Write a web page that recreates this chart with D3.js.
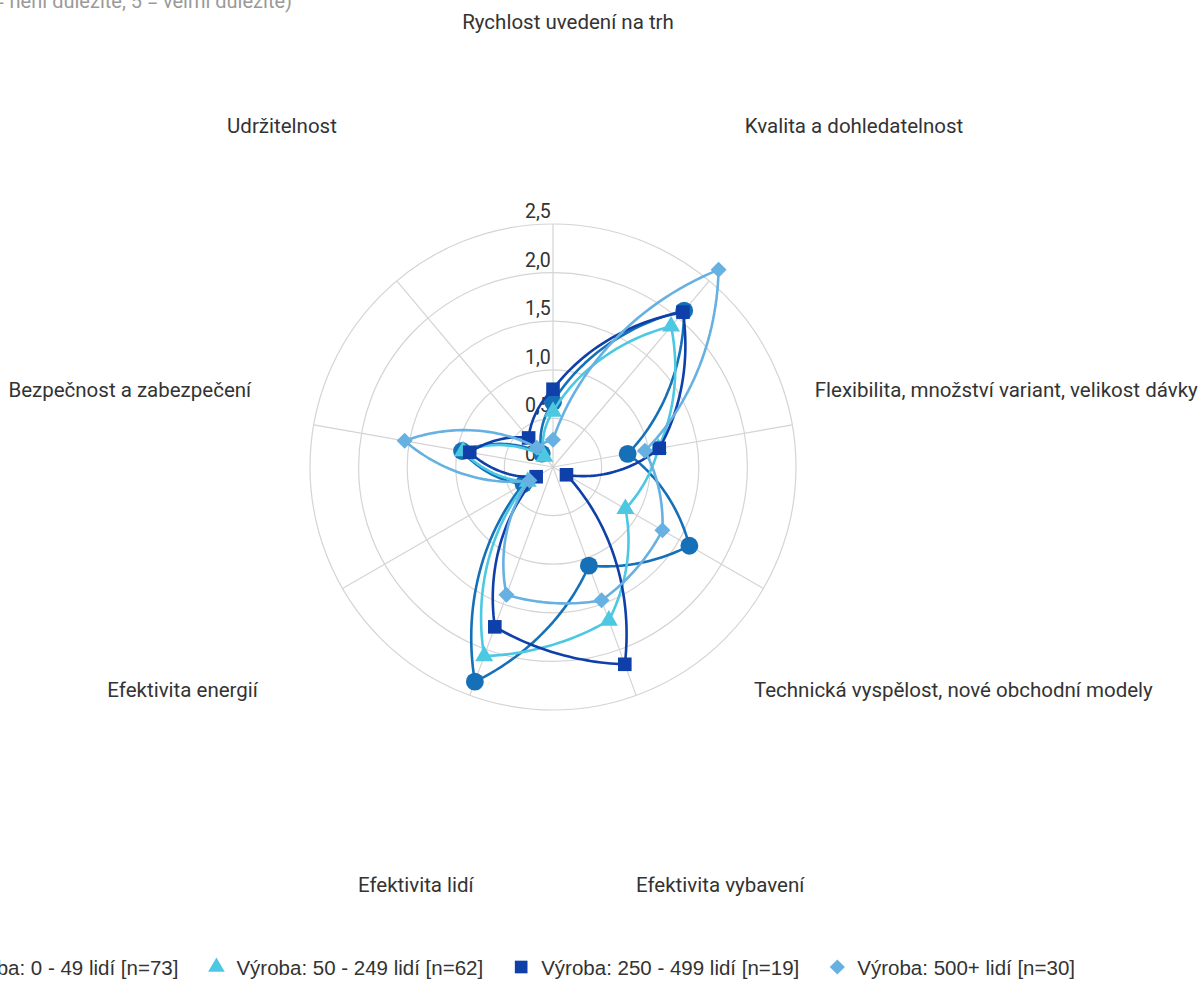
<!DOCTYPE html>
<html><head><meta charset="utf-8">
<script src="https://cdn.jsdelivr.net/npm/d3@7"></script>
<style>body{margin:0;background:#fff;overflow:hidden}</style>
</head><body><svg id="chart" width="1200" height="1001"></svg>
<script>
const titleText = "Průměrné hodnocení (0 = není důležité, 5 = velmi důležité)";
const categories = ["Rychlost uvedení na trh","Kvalita a dohledatelnost","Flexibilita, množství variant, velikost dávky","Technická vyspělost, nové obchodní modely","Efektivita vybavení","Efektivita lidí","Efektivita energií","Bezpečnost a zabezpečení","Udržitelnost"];
const seriesNames = ["Výroba: 0 - 49 lidí [n=73]","Výroba: 50 - 249 lidí [n=62]","Výroba: 250 - 499 lidí [n=19]","Výroba: 500+ lidí [n=30]"];
const vyroba0_49 = [0.67, 2.10, 0.78, 1.62, 1.08, 2.35, 0.35, 0.95, 0.18];
const vyroba50_249 = [0.57, 1.89, 1.10, 0.86, 1.68, 2.07, 0.30, 0.94, 0.14];
const vyroba250_499 = [0.80, 2.08, 1.11, 0.16, 2.16, 1.75, 0.20, 0.87, 0.39];
const vyroba500 = [0.28, 2.65, 0.96, 1.30, 1.46, 1.40, 0.28, 1.55, 0.26];
const tickValues = [0, 0.5, 1, 1.5, 2, 2.5];
const tickLabels = ["0","0,5","1,0","1,5","2,0","2,5"];
const seriesColors = ["#1670b8","#4cc8e2","#0f3fa8","#66b1e2"];
const seriesSymbols = ["circle","triangle","square","diamond"];

const seriesData = [vyroba0_49, vyroba50_249, vyroba250_499, vyroba500];
const svg = d3.select("#chart");
const n = categories.length;
const cx = 553, cy = 467;
const angle = d3.scaleLinear().domain([0, n]).range([0, 2 * Math.PI]);
const r = d3.scaleLinear().domain([0, 2.5]).range([0, 243]);
const fontMain = "Roboto, 'Noto Sans', sans-serif";
const fontLegend = "'Liberation Sans', Arial, sans-serif";

// title (cut off at the top)
svg.append("text").attr("x", 292).attr("y", 8).attr("text-anchor", "end")
  .attr("font-family", fontMain).attr("font-size", 20).attr("fill", "#9a9a9a").text(titleText);

const g = svg.append("g").attr("transform", `translate(${cx},${cy})`);

// grid
g.selectAll("circle.grid").data(tickValues.filter(v => v > 0)).join("circle")
  .attr("class", "grid").attr("r", d => r(d)).attr("fill", "none")
  .attr("stroke", "#d4d4d4").attr("stroke-width", 1.2);
g.selectAll("line.spoke").data(d3.range(n)).join("line")
  .attr("x1", 0).attr("y1", 0)
  .attr("x2", i => r(2.5) * Math.sin(angle(i)))
  .attr("y2", i => -r(2.5) * Math.cos(angle(i)))
  .attr("stroke", "#d4d4d4").attr("stroke-width", 1.2);

// tick labels
g.selectAll("text.tick").data(tickValues).join("text")
  .attr("x", -28).attr("y", (d) => -r(d) - 6)
  .attr("font-family", fontMain).attr("font-size", 19.5).attr("fill", "#333")
  .text((d, i) => tickLabels[i]);

// category labels
const lcx = 568 - cx, LR = 445;
g.selectAll("text.cat").data(categories).join("text")
  .attr("x", (d, i) => lcx + LR * Math.sin(angle(i)))
  .attr("y", (d, i) => -LR * Math.cos(angle(i)))
  .attr("text-anchor", "middle").attr("dominant-baseline", "central")
  .attr("font-family", fontMain).attr("font-size", 20.5).attr("fill", "#333")
  .text(d => d);

// series paths: blend of polar (spiral) and straight interpolation
function segPoints(vals) {
  const pts = [], N = 30, w = 0.65;
  for (let i = 0; i < n; i++) {
    const j = (i + 1) % n;
    const a0 = angle(i), a1 = angle(i + 1);
    const p0 = [r(vals[i]) * Math.sin(a0), -r(vals[i]) * Math.cos(a0)];
    const p1 = [r(vals[j]) * Math.sin(a1), -r(vals[j]) * Math.cos(a1)];
    for (let k = 0; k < N; k++) {
      const t = k / N;
      const a = a0 + (a1 - a0) * t;
      const rv = r(vals[i] + (vals[j] - vals[i]) * t);
      const sx = rv * Math.sin(a), sy = -rv * Math.cos(a);
      const lx = p0[0] + (p1[0] - p0[0]) * t, ly = p0[1] + (p1[1] - p0[1]) * t;
      pts.push([w * sx + (1 - w) * lx, w * sy + (1 - w) * ly]);
    }
  }
  return pts;
}
const line = d3.line().curve(d3.curveLinearClosed);
const symMap = {
  circle: d3.symbol().type(d3.symbolCircle).size(250),
  triangle: d3.symbol().type(d3.symbolTriangle).size(140),
  square: d3.symbol().type(d3.symbolSquare).size(185),
  diamond: d3.symbol().type(d3.symbolSquare).size(128)
};
seriesData.forEach((vals, si) => {
  const sg = g.append("g");
  sg.append("path").attr("d", line(segPoints(vals))).attr("fill", "none")
    .attr("stroke", seriesColors[si]).attr("stroke-width", 2.6).attr("stroke-linejoin", "round");
  sg.selectAll("path.m").data(vals).join("path")
    .attr("d", symMap[seriesSymbols[si]]())
    .attr("transform", (d, i) => {
      const x = r(d) * Math.sin(angle(i)), y = -r(d) * Math.cos(angle(i));
      return `translate(${x},${y})` + (seriesSymbols[si] === "diamond" ? " rotate(45)" : "");
    })
    .attr("fill", seriesColors[si]);
});

// legend
const legY = 967;
const lg = svg.append("g");
const items = lg.selectAll("g.item").data(seriesNames).join("g");
const m2t = 20, itemGap = 38;
items.append("text").attr("x", m2t).attr("y", 0).attr("dominant-baseline", "central")
  .attr("font-family", fontLegend).attr("font-size", 20.5).attr("fill", "#333").text(d => d);
const legSym = {
  circle: d3.symbol().type(d3.symbolCircle).size(170),
  triangle: d3.symbol().type(d3.symbolTriangle).size(120),
  square: d3.symbol().type(d3.symbolSquare).size(160),
  diamond: d3.symbol().type(d3.symbolSquare).size(115)
};
items.append("path").attr("d", (d, i) => legSym[seriesSymbols[i]]())
  .attr("transform", (d, i) => seriesSymbols[i] === "diamond" ? "rotate(45)" : null)
  .attr("fill", (d, i) => seriesColors[i]);
const widths = items.nodes().map(nd => nd.querySelector("text").getComputedTextLength());
const xs = [];
xs[3] = 1075 - widths[3] - m2t;
for (let i = 2; i >= 0; i--) xs[i] = xs[i + 1] - itemGap - widths[i] - m2t;
items.attr("transform", (d, i) => `translate(${xs[i]},${legY})`);
</script>
</body></html>
